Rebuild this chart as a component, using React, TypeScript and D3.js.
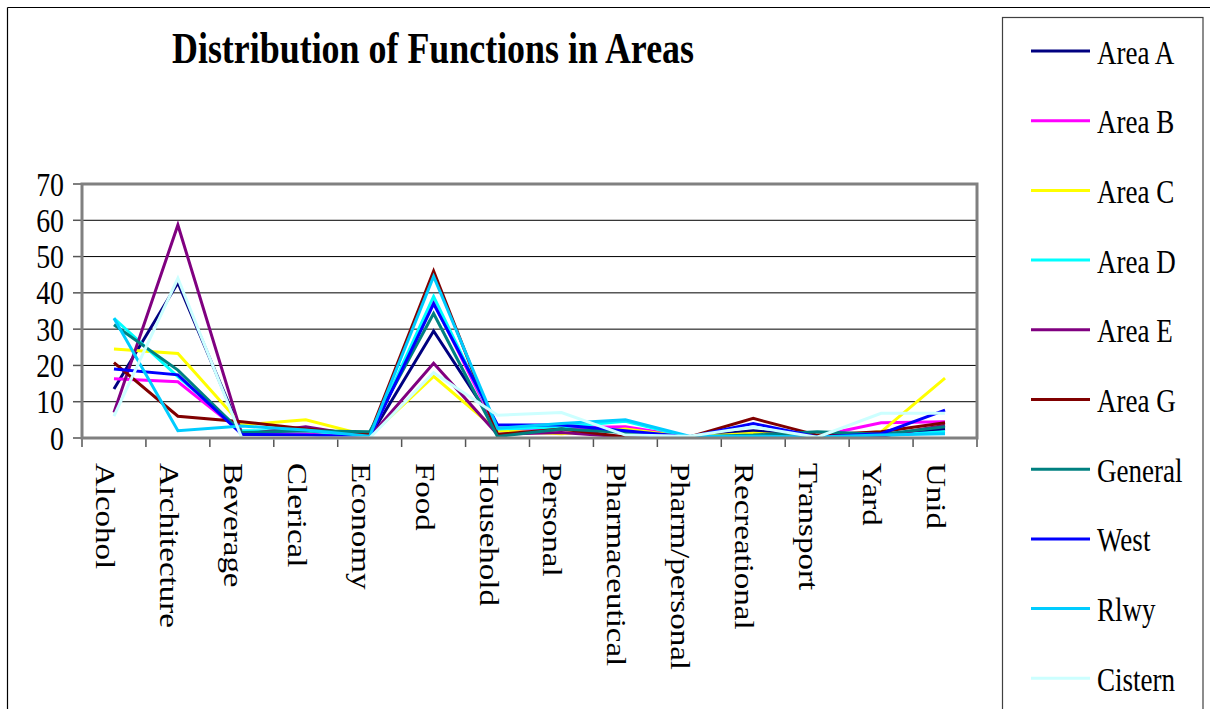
import React from "react";
import * as d3 from "d3";

const categories = [
  "Alcohol", "Architecture", "Beverage", "Clerical", "Economy", "Food", "Household",
  "Personal", "Pharmaceutical", "Pharm/personal", "Recreational", "Transport", "Yard", "Unid",
];

const seriesNames = ["Area A", "Area B", "Area C", "Area D", "Area E", "Area G", "General", "West", "Rlwy", "Cistern"];
const seriesColors = ["#000080", "#FF00FF", "#FFFF00", "#00FFFF", "#800080", "#800000", "#008080", "#0000FF", "#00CCFF", "#CCFFFF"];

const areaA = [13.5, 42.8, 1, 1, 0.3, 29.5, 2.5, 3, 1.5, 0.3, 2, 0.5, 1, 2.5];
const areaB = [16.3, 15.5, 1.5, 1, 0.3, 37.5, 2, 2.8, 3.1, 0.3, 1, 0.5, 4.2, 4.5];
const areaC = [24.5, 23.3, 3.6, 5, 0.5, 17, 2, 1.2, 2.5, 0.3, 1.3, 0.5, 1.7, 16.5];
const areaD = [33, 16.9, 2, 2, 0.5, 39, 2.5, 3, 4.6, 0.3, 0.5, 0.5, 0.6, 1.7];
const areaE = [7, 58.7, 1, 3.1, 0.3, 20.6, 1, 1.5, 0.3, 0.3, 0.4, 0.3, 0.5, 3.5];
const areaG = [20.8, 6, 4.5, 2.5, 1, 46, 1, 2.5, 0.3, 0.3, 5.4, 0.8, 1.7, 4.2];
const general = [31.2, 18.7, 1.5, 2, 1.7, 34.3, 0.4, 2.5, 1.5, 0.3, 0.8, 1.7, 1, 3.1];
const west = [19, 17.4, 1, 0.8, 0.3, 37, 3.6, 3.6, 2, 0.3, 4, 0.3, 1.2, 7.7];
const rlwy = [33, 2, 3.3, 2.2, 0.5, 44.5, 2.7, 4, 5, 0.5, 0.5, 0.3, 0.8, 1.2];
const cistern = [6, 44, 0, 0, 0, 18, 6.3, 7, 0.8, 0.5, 3.1, 0.2, 6.8, 6.8];

const seriesValues = [areaA, areaB, areaC, areaD, areaE, areaG, general, west, rlwy, cistern];
const yTicks = [0, 10, 20, 30, 40, 50, 60, 70];

const FONT = "'Liberation Serif', 'Times New Roman', serif";
const SX = 0.82;

export default function App() {
  const plot = { left: 82, right: 977, top: 184, bottom: 438 };
  const x = d3.scaleBand<string>().domain(categories).range([plot.left, plot.right]);
  const y = d3.scaleLinear().domain([0, 70]).range([plot.bottom, plot.top]);
  const cx = (c: string) => (x(c) as number) + x.bandwidth() / 2;
  const line = d3
    .line<number>()
    .x((_, i) => cx(categories[i]))
    .y((v) => y(v));

  const legendY0 = 51;
  const legendStep = 69.7;

  return (
    <svg
      width={1210}
      height={709}
      style={{ position: "absolute", left: 0, top: 0, background: "#fff" }}
    >
      <rect x={0} y={0} width={1210} height={709} fill="#fff" />
      {/* outer chart border */}
      <line x1={7.5} y1={7.5} x2={1210} y2={7.5} stroke="#000" strokeWidth={1.2} />
      <line x1={7.5} y1={7.5} x2={7.5} y2={709} stroke="#000" strokeWidth={1.2} />

      {/* title */}
      <text
        x={172}
        y={63}
        fontFamily={FONT}
        fontWeight="bold"
        fontSize={45}
        textLength={522}
        lengthAdjust="spacingAndGlyphs"
        fill="#000"
      >
        Distribution of Functions in Areas
      </text>

      {/* gridlines */}
      {yTicks
        .filter((t) => t > 0 && t < 70)
        .map((t) => (
          <line key={"g" + t} x1={plot.left} x2={plot.right} y1={y(t)} y2={y(t)} stroke="#000" strokeWidth={1} />
        ))}

      {/* y ticks */}
      {yTicks.map((t) => (
        <line key={"yt" + t} x1={plot.left - 9} x2={plot.left} y1={y(t)} y2={y(t)} stroke="#555" strokeWidth={1.5} />
      ))}
      {/* x ticks */}
      {categories.concat(["__end"]).map((c, i) => {
        const xx = plot.left + i * x.bandwidth();
        return <line key={"xt" + i} x1={xx} x2={xx} y1={plot.bottom} y2={plot.bottom + 9} stroke="#555" strokeWidth={1.5} />;
      })}

      {/* series lines */}
      {seriesValues.map((vals, i) => (
        <path
          key={seriesNames[i]}
          d={line(vals) as string}
          fill="none"
          stroke={seriesColors[i]}
          strokeWidth={3}
          strokeLinejoin="miter"
        />
      ))}

      {/* plot border */}
      <rect
        x={plot.left}
        y={plot.top}
        width={plot.right - plot.left}
        height={plot.bottom - plot.top}
        fill="none"
        stroke="#808080"
        strokeWidth={3}
      />

      {/* y tick labels */}
      {yTicks.map((t) => (
        <text
          key={"yl" + t}
          transform={`translate(64,${y(t) + 11.5}) scale(${SX},1)`}
          textAnchor="end"
          fontFamily={FONT}
          fontSize={34}
          fill="#000"
        >
          {t}
        </text>
      ))}

      {/* x labels */}
      {categories.map((c) => (
        <text
          key={"xl" + c}
          transform={`translate(${cx(c) - 18},463) scale(${SX},1) rotate(90)`}
          fontFamily={FONT}
          fontSize={33}
          fill="#000"
        >
          {c}
        </text>
      ))}

      {/* legend */}
      <rect x={1002.5} y={17.5} width={200.5} height={720} fill="#fff" stroke="#404040" strokeWidth={1.2} />
      {seriesNames.map((n, i) => {
        const ly = legendY0 + i * legendStep;
        return (
          <g key={"lg" + n}>
            <line x1={1031} x2={1090} y1={ly} y2={ly} stroke={seriesColors[i]} strokeWidth={3} />
            <text
              transform={`translate(1097,${ly + 12.5}) scale(${SX},1)`}
              fontFamily={FONT}
              fontSize={33}
              fill="#000"
            >
              {n}
            </text>
          </g>
        );
      })}
    </svg>
  );
}
